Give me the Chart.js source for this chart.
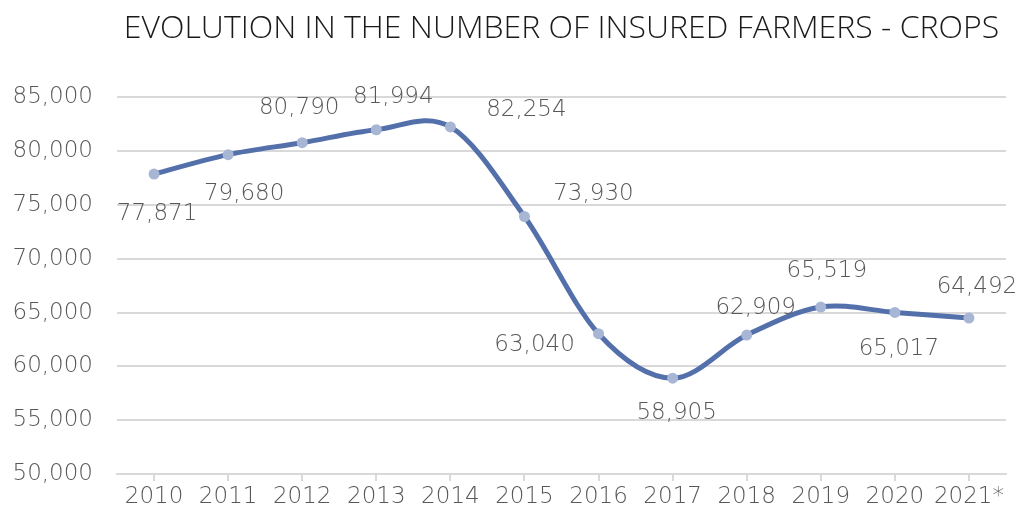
<!DOCTYPE html>
<html>
<head>
<meta charset="utf-8">
<script src="https://cdn.jsdelivr.net/npm/chart.js@4"></script>
<style>
	html, body { margin: 0; padding: 0; background: #fff; }
	#wrap { width: 1028px; height: 517px; }
</style>
</head>
<body>
<div id="wrap"><canvas id="farmers-chart" width="1028" height="517"></canvas></div>
<script>
const years = ['2010', '2011', '2012', '2013', '2014', '2015', '2016', '2017', '2018', '2019', '2020', '2021*'];
const insured_farmers = [77871, 79680, 80790, 81994, 82254, 73930, 63040, 58905, 62909, 65519, 65017, 64492];
const y_min = 50000, y_max = 85000, y_step = 5000;

// where each value label sits relative to its point (dx, dy in px)
const label_offsets = [
	[3, 40], [16, 39], [-3, -35], [17, -33], [76, -17], [69, -22],
	[-64, 11], [4, 35], [9, -27], [6, -36], [4, 37], [8, -31]
];

const ctx = document.getElementById('farmers-chart').getContext('2d');
const label_font = '200 23px "DejaVu Sans"';
const text_grey = '#585858';

// office-style smoothing: control points at +/- (next - prev) / 6
const smoothLine = {
	id: 'smoothLine',
	beforeDatasetDraw(chart, args) {
		const line = args.meta.dataset;
		line.updateControlPoints(chart.chartArea);
		const pts = args.meta.data;
		pts.forEach((p, i) => {
			let prev = pts[i - 1] || p;
			let next = pts[i + 1] || p;
			let tx = (next.x - prev.x) / 6;
			let ty = (next.y - prev.y) / 6;
			p.cp1x = p.x - tx;
			p.cp1y = p.y - ty;
			p.cp2x = p.x + tx;
			p.cp2y = p.y + ty;
		});
		line._path = undefined;
	}
};

const valueLabels = {
	id: 'valueLabels',
	afterDatasetsDraw(chart) {
		const meta = chart.getDatasetMeta(0);
		const c = chart.ctx;
		c.save();
		c.font = label_font;
		c.fillStyle = text_grey;
		c.textAlign = 'center';
		c.textBaseline = 'middle';
		meta.data.forEach((pt, i) => {
			let txt = insured_farmers[i].toLocaleString('en-US');
			let off = label_offsets[i];
			c.fillText(txt, pt.x + off[0], pt.y + off[1]);
		});
		c.restore();
	}
};

new Chart(ctx, {
	type: 'line',
	data: {
		labels: years,
		datasets: [{
			label: 'Insured farmers',
			data: insured_farmers,
			borderColor: '#5470ab',
			borderWidth: 5,
			tension: 0.4,
			fill: false,
			pointRadius: 5.5,
			pointBackgroundColor: '#a8b6d6',
			pointBorderColor: '#a8b6d6',
			pointBorderWidth: 0
		}]
	},
	options: {
		responsive: false,
		animation: false,
		layout: { padding: { left: 0, right: 22, top: 0, bottom: 0 } },
		plugins: {
			legend: { display: false },
			tooltip: { enabled: false },
			title: {
				display: true,
				fullSize: false,
				text: 'EVOLUTION IN THE NUMBER OF INSURED FARMERS - CROPS',
				color: '#1a1a1a',
				font: { family: 'Open Sans', size: 32, weight: '300' },
				padding: { top: 10, bottom: 49 }
			}
		},
		scales: {
			x: {
				offset: true,
				grid: { display: true, drawOnChartArea: false, drawTicks: true, tickLength: 7, color: '#d9d9d9', lineWidth: 2 },
				border: { color: '#d9d9d9', width: 2 },
				ticks: { color: text_grey, font: { family: 'DejaVu Sans', size: 23, weight: '200' }, padding: 2, maxRotation: 0 },
				afterFit: s => { s.height = 43; }
			},
			y: {
				min: y_min,
				max: y_max,
				grid: { color: '#d9d9d9', lineWidth: 2, drawTicks: false },
				border: { display: false },
				ticks: {
					stepSize: y_step,
					color: text_grey,
					padding: 24,
					font: { family: 'DejaVu Sans', size: 23, weight: '200' },
					callback: v => v.toLocaleString('en-US')
				},
				afterFit: s => { s.width = 117; }
			}
		}
	},
	plugins: [smoothLine, valueLabels]
});
</script>
</body>
</html>
